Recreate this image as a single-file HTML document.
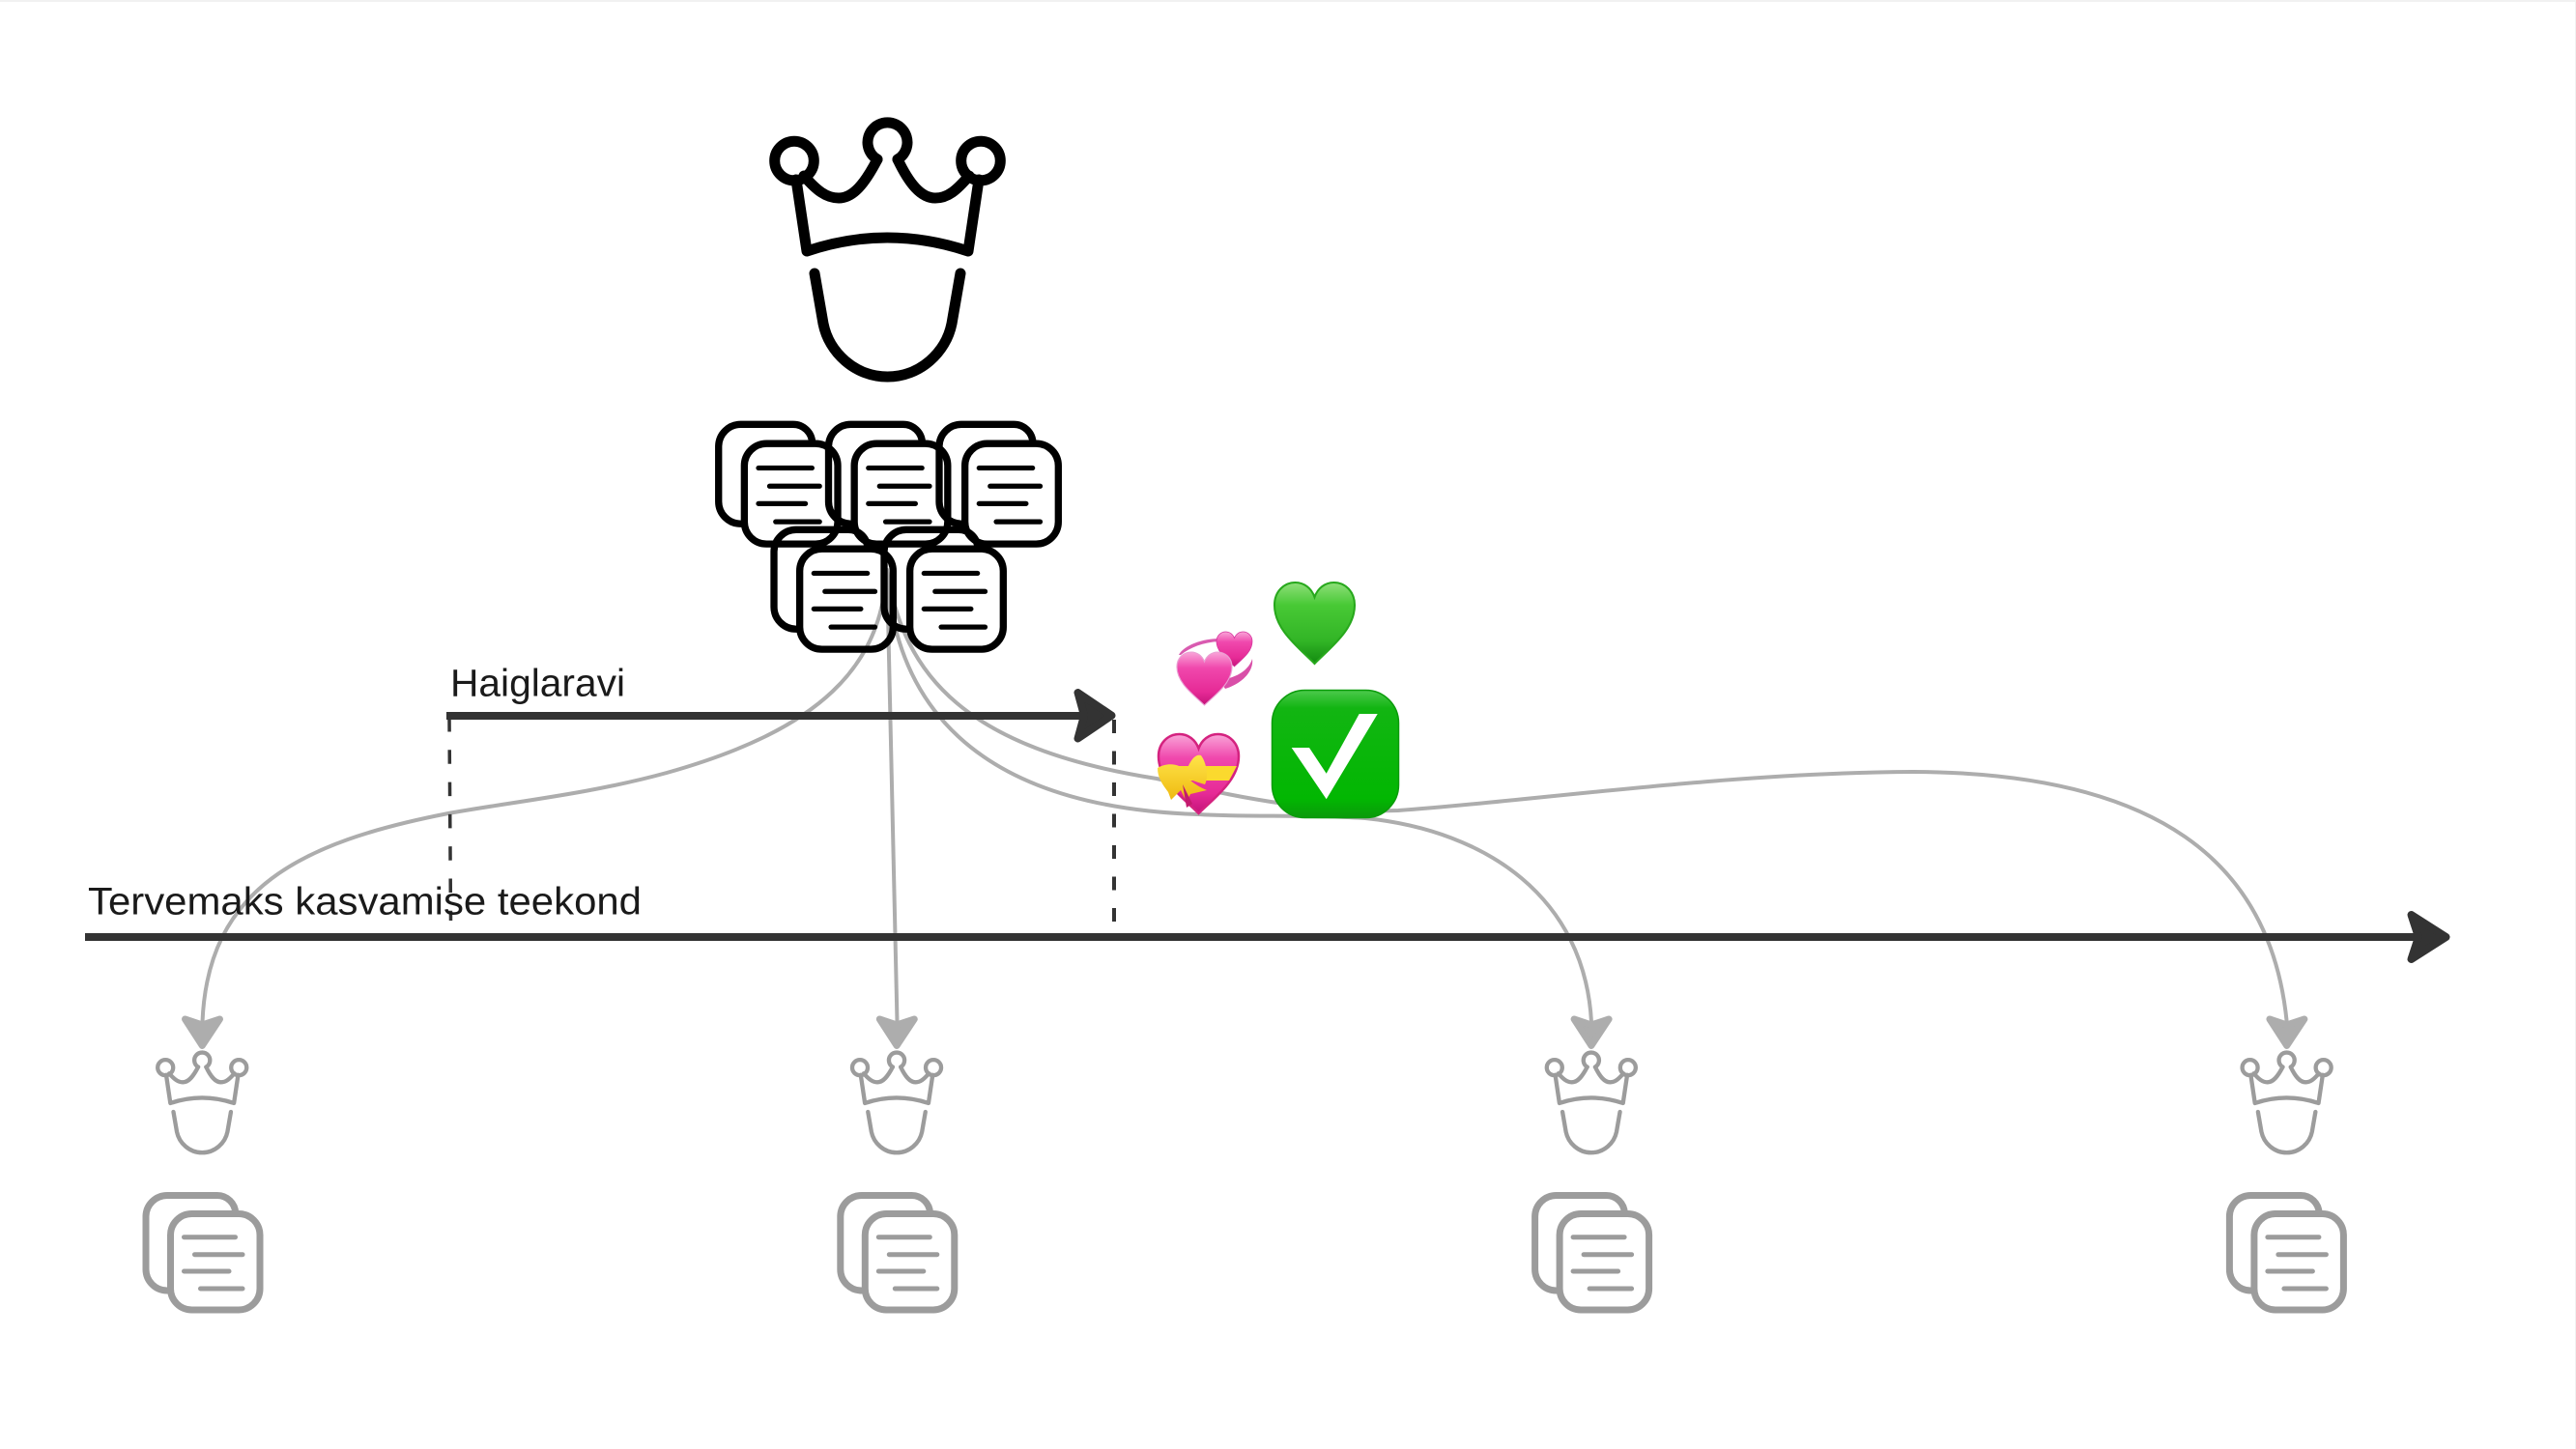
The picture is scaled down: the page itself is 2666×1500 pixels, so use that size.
<!DOCTYPE html>
<html>
<head>
<meta charset="utf-8">
<style>
html,body{margin:0;padding:0;background:#fff;width:2666px;height:1500px;overflow:hidden}
svg{display:block}
text{font-family:"Liberation Sans",sans-serif;font-size:40px;fill:#1a1a1a}
</style>
</head>
<body>
<svg width="2666" height="1500" viewBox="0 0 2666 1500" xmlns="http://www.w3.org/2000/svg">
<defs>
<g id="crown" fill="none" stroke-linecap="round" stroke-linejoin="round" stroke-width="11">
<circle cx="822" cy="166.5" r="20.3"/>
<path d="M908 165 A20.5 20.5 0 1 1 929 165"/>
<circle cx="1015" cy="166.5" r="20.3"/>
<path d="M824 186 L835 260 Q918 232 1002 260 L1013 186"/>
<path d="M832 182 C845 197 855 205 868 205 C883 205 895 190 908 165"/>
<path d="M1003 182 C990 197 981 205 968 205 C953 205 941 190 929 165"/>
<path d="M843 283 L852 335 C858 365 885 390 918.5 390 C952 390 979 365 985 335 L994 283"/>
</g>
<g id="doc" fill="none" stroke-linecap="round" stroke-linejoin="round">
<rect x="3.5" y="3.5" width="92.5" height="99.5" rx="22" stroke-width="7"/>
<path stroke-width="7" d="M70.75 3 A19 19 0 0 0 51.75 -15.5 H0 A22 22 0 0 0 -22 6 V61 A22 22 0 0 0 0 83 H3"/>
<path stroke-width="5" d="M17.5 27.7H70.5M28.5 45.7H78M17.5 63H64M34.5 81H78"/>
</g>
<path id="heart" d="M50 100 C30 80 0 58 0 28 C0 11 12 0 26 0 C37 0 46 7 50 18 C54 7 63 0 74 0 C88 0 100 11 100 28 C100 58 70 80 50 100Z"/>
<linearGradient id="gGreen" x1="0" y1="0" x2="0" y2="1"><stop offset="0" stop-color="#8fdf7a"/><stop offset=".28" stop-color="#48c935"/><stop offset=".72" stop-color="#32b526"/><stop offset="1" stop-color="#128a10"/></linearGradient>
<linearGradient id="gPink" x1="0" y1="0" x2="0" y2="1"><stop offset="0" stop-color="#f9a5d8"/><stop offset=".3" stop-color="#f048ad"/><stop offset=".75" stop-color="#e62a96"/><stop offset="1" stop-color="#c4137a"/></linearGradient>
<linearGradient id="gBox" x1="0" y1="0" x2="0" y2="1"><stop offset="0" stop-color="#4cc94c"/><stop offset=".14" stop-color="#12b512"/><stop offset=".85" stop-color="#02b702"/><stop offset="1" stop-color="#0a9a0a"/></linearGradient>
<linearGradient id="gBow" x1="0" y1="0" x2="0" y2="1"><stop offset="0" stop-color="#ffe44a"/><stop offset="1" stop-color="#eeb80e"/></linearGradient>
</defs>

<rect x="0" y="0" width="2666" height="2" fill="#f1f1f1"/>
<rect x="2665" y="0" width="1" height="1500" fill="#f1f1f1"/>

<!-- gray connectors -->
<g fill="none" stroke="#adadad" stroke-width="4" stroke-linecap="round">
<path d="M918 590 C912 690 850 755 690 800 C610 822 530 830 464 842 C310 872 215 920 209.5 1058"/>
<path d="M918 590 C920 720 925 880 928.5 1058"/>
<path d="M918 590 C925 720 1000 835 1240 843 C1290 846 1360 843 1413 847 C1540 860 1640 930 1647 1058"/>
<path d="M918 590 C935 700 1000 775 1197 806 C1290 828 1370 842 1447 839 C1580 830 1780 800 1980 799 C2230 800 2350 890 2366.7 1058"/>
</g>
<g fill="#adadad" stroke="#adadad" stroke-width="7" stroke-linejoin="round">
<polygon points="209.3,1082.5 191.5,1055 209.3,1061 227.5,1055"/>
<polygon points="928.1,1082.5 910.3,1055 928.1,1061 946.3,1055"/>
<polygon points="1646.9,1082.5 1629.1,1055 1646.9,1061 1665.1,1055"/>
<polygon points="2366.7,1082.5 2348.9,1055 2366.7,1061 2384.9,1055"/>
</g>

<!-- timelines -->
<g fill="none" stroke="#333">
<path stroke-width="3.5" stroke-dasharray="14.5 18.8" d="M465 743 L466.5 953"/>
<path stroke-width="4" stroke-dasharray="14 18.5" d="M1153 745 V960"/>
<path stroke-width="8" d="M462 741H1120M88 970H2500"/>
</g>
<g fill="#333" stroke="#333" stroke-width="8" stroke-linejoin="round">
<polygon points="1150.5,740.7 1115.5,717 1122,740.7 1115.5,764.5"/>
<polygon points="2531.5,970 2495.5,947 2503,970 2495.5,993"/>
</g>

<text x="466" y="720.5" textLength="181" lengthAdjust="spacingAndGlyphs">Haiglaravi</text>
<text x="91" y="946.5" textLength="573" lengthAdjust="spacingAndGlyphs">Tervemaks kasvamise teekond</text>

<!-- black crown + docs -->
<use href="#crown" stroke="#000"/>
<g stroke="#000">
<use href="#doc" transform="translate(766.7 455.5) scale(1.045)"/>
<use href="#doc" transform="translate(880.5 455.5) scale(1.045)"/>
<use href="#doc" transform="translate(995 455.5) scale(1.045)"/>
<use href="#doc" transform="translate(824 564.5) scale(1.045)"/>
<use href="#doc" transform="translate(938 564.5) scale(1.045)"/>
</g>

<!-- gray crowns + docs -->
<g stroke="#9c9c9c">
<use href="#crown" transform="translate(209.3 1097.3) scale(.394) translate(-918.7 -146.6)"/>
<use href="#crown" transform="translate(928.1 1097.3) scale(.394) translate(-918.7 -146.6)"/>
<use href="#crown" transform="translate(1646.9 1097.3) scale(.394) translate(-918.7 -146.6)"/>
<use href="#crown" transform="translate(2366.7 1097.3) scale(.394) translate(-918.7 -146.6)"/>
<use href="#doc" x="173" y="1253"/>
<use href="#doc" x="891.8" y="1253"/>
<use href="#doc" x="1610.6" y="1253"/>
<use href="#doc" x="2329.4" y="1253"/>
</g>

<!-- green heart -->
<use href="#heart" transform="translate(1319 603) scale(.83 .84)" fill="url(#gGreen)" stroke="#27a81c" stroke-width="2.5"/>

<!-- revolving hearts -->
<path d="M1220 678 C1225 668 1245 661 1262 661 L1262 664 C1245 665 1232 670 1222 678Z" fill="#d95bb0"/>
<path d="M1296 682 C1298 695 1285 708 1268 713 L1262 704 C1278 702 1292 695 1296 682Z" fill="#d94fa8"/>
<use href="#heart" transform="translate(1259 654) scale(.37 .36)" fill="url(#gPink)" stroke="#d4339c" stroke-width="2"/>
<use href="#heart" transform="translate(1218 675) scale(.57 .55)" fill="url(#gPink)" stroke="#e9a0d3" stroke-width="2"/>

<!-- gift heart -->
<use href="#heart" transform="translate(1199 760) scale(.83 .82)" fill="url(#gPink)" stroke="#d4227f" stroke-width="3"/>
<polygon points="1203,793 1280,793 1272,808 1212,808" fill="#fbd92e"/>
<path d="M1198 795 C1210 788 1222 792 1228 798 C1232 786 1238 780 1243 782 C1249 790 1251 805 1247 812 C1240 810 1234 808 1230 806 C1236 812 1244 816 1249 818 L1232 822 L1228 830 L1222 818 L1212 828 L1209 820 C1203 812 1198 805 1198 795Z" fill="url(#gBow)"/>
<path d="M1224 812 L1234 832 L1228 836 Z" fill="#c31a6e"/>

<!-- check box -->
<rect x="1316.5" y="714.5" width="131" height="132" rx="34" fill="url(#gBox)" stroke="#0b9c0b" stroke-width="1.5"/>
<polygon points="1336.7,774 1355,774 1372.7,800.7 1406.7,739 1425.7,739 1372.7,827.3" fill="#fff"/>
</svg>
</body>
</html>
